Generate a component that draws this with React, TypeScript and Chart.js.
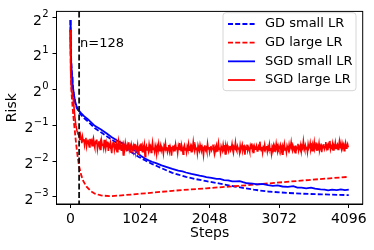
import { useEffect, useRef } from 'react';
import { Chart, registerables } from 'chart.js';

Chart.register(...registerables);

// ---------- data (risk values are read in log2 units from the picture) ----------
const xTickSteps = [0, 1024, 2048, 3072, 4096];
const yTickExponents = [-3, -2, -1, 0, 1, 2];
const markerStep = 128;
const markerLabel = 'n=128';
const xTitle = 'Steps';
const yTitle = 'Risk';
const legendLabels = ['GD small LR', 'GD large LR', 'SGD small LR', 'SGD large LR'];

const gdSmallSteps = [0, 2, 4, 8, 16, 24, 32, 48, 64, 80, 96, 128, 160, 200, 260, 358, 450, 603, 750, 852, 1000, 1097, 1200, 1342, 1500, 1587, 1700, 1833, 2000, 2200, 2418, 2700, 2909, 3200, 3400, 3700, 4096];
const gdSmallLog2Risk = [1.93, 1.6, 1.35, 1.0, 0.6, 0.35, 0.15, -0.13, -0.32, -0.45, -0.53, -0.64, -0.72, -0.8, -0.9, -1.08, -1.2, -1.4, -1.57, -1.7, -1.88, -1.98, -2.08, -2.2, -2.33, -2.38, -2.44, -2.5, -2.56, -2.63, -2.71, -2.8, -2.85, -2.89, -2.91, -2.93, -2.95];

const gdLargeSteps = [0, 2, 4, 8, 16, 32, 48, 64, 80, 96, 112, 128, 160, 192, 240, 300, 360, 450, 600, 800, 1100, 1500, 2000, 2500, 3000, 3500, 4096];
const gdLargeLog2Risk = [1.66, 1.15, 0.75, 0.3, -0.1, -0.5, -0.85, -1.15, -1.45, -1.72, -1.95, -2.15, -2.4, -2.57, -2.72, -2.84, -2.91, -2.96, -2.98, -2.95, -2.9, -2.83, -2.76, -2.69, -2.61, -2.53, -2.44];

const sgdSmallSteps = [0, 2, 4, 8, 16, 24, 32, 48, 64, 80, 96, 128, 160, 200, 260, 358, 450, 540, 603, 700, 760, 852, 920, 960, 1000, 1040, 1097, 1150, 1200, 1260, 1342, 1420, 1500, 1587, 1650, 1700, 1780, 1833, 1900, 1960, 2000, 2077, 2150, 2200, 2260, 2322, 2380, 2430, 2491, 2540, 2600, 2680, 2750, 2820, 2909, 2980, 3050, 3120, 3200, 3280, 3340, 3400, 3470, 3540, 3600, 3680, 3740, 3792, 3850, 3920, 3980, 4040, 4096];
const sgdSmallLog2Risk = [1.93, 1.6, 1.35, 1.0, 0.6, 0.35, 0.15, -0.1, -0.28, -0.42, -0.5, -0.6, -0.67, -0.75, -0.84, -1.02, -1.12, -1.24, -1.33, -1.44, -1.5, -1.62, -1.68, -1.72, -1.8, -1.86, -1.93, -1.98, -2.02, -2.06, -2.12, -2.17, -2.22, -2.27, -2.29, -2.32, -2.36, -2.38, -2.41, -2.43, -2.45, -2.47, -2.5, -2.5, -2.53, -2.54, -2.57, -2.57, -2.56, -2.59, -2.62, -2.63, -2.65, -2.64, -2.67, -2.69, -2.68, -2.71, -2.72, -2.7, -2.74, -2.74, -2.76, -2.74, -2.77, -2.79, -2.8, -2.82, -2.8, -2.81, -2.79, -2.81, -2.8];

const sgdLargeEarlySteps = [0, 2, 4, 8, 12, 16, 24, 32, 40, 48, 64, 80, 96, 112];
const sgdLargeEarlyLog2Risk = [1.66, 1.2, 0.85, 0.45, 0.15, 0.0, -0.1, -0.17, -0.25, -0.4, -0.75, -1.0, -1.15, -1.25];
const sgdLargeNoisyStart = 128;
const sgdLargeNoisyStride = 10;
const sgdLargeNoisyLog2Risk = [
  -1.30, -1.41, -1.27, -1.36, -1.50, -1.33, -1.44, -1.39, -1.55, -1.42, -1.35, -1.58, -1.46, -1.40, -1.52, -1.61, -1.38, -1.49, -1.44, -1.57,
  -1.43, -1.36, -1.54, -1.62, -1.47, -1.51, -1.40, -1.66, -1.53, -1.45, -1.59, -1.49, -1.70, -1.44, -1.56, -1.52, -1.63, -1.41, -1.58, -1.67,
  -1.50, -1.61, -1.46, -1.72, -1.55, -1.59, -1.49, -1.65, -1.78, -1.54, -1.60, -1.47, -1.68, -1.57, -1.63, -1.52, -1.74, -1.58, -1.45, -1.66,
  -1.61, -1.53, -1.70, -1.64, -1.56, -1.83, -1.59, -1.67, -1.50, -1.62, -1.73, -1.57, -1.66, -1.48, -1.69, -1.61, -1.77, -1.55, -1.64, -1.71,
  -1.58, -1.66, -1.52, -1.75, -1.62, -1.68, -1.56, -1.81, -1.63, -1.59, -1.70, -1.51, -1.65, -1.74, -1.60, -1.67, -1.55, -1.88, -1.64, -1.58,
  -1.69, -1.61, -1.72, -1.54, -1.66, -1.60, -1.76, -1.63, -1.49, -1.68, -1.62, -1.73, -1.57, -1.65, -1.80, -1.59, -1.67, -1.53, -1.71, -1.64,
  -1.56, -1.70, -1.62, -1.66, -1.79, -1.58, -1.64, -1.51, -1.69, -1.61, -1.74, -1.65, -1.55, -1.72, -1.60, -1.67, -1.85, -1.63, -1.57, -1.68,
  -1.62, -1.73, -1.54, -1.66, -1.61, -1.77, -1.59, -1.68, -1.50, -1.64, -1.71, -1.58, -1.66, -1.81, -1.62, -1.56, -1.69, -1.63, -1.75, -1.60,
  -1.67, -1.53, -1.70, -1.64, -1.58, -1.74, -1.61, -1.66, -1.47, -1.63, -1.72, -1.59, -1.68, -1.62, -1.78, -1.57, -1.65, -1.70, -1.55, -1.64,
  -1.71, -1.60, -1.67, -1.83, -1.62, -1.56, -1.69, -1.64, -1.73, -1.52, -1.66, -1.61, -1.75, -1.63, -1.58, -1.70, -1.65, -1.54, -1.68, -1.79,
  -1.61, -1.66, -1.57, -1.72, -1.64, -1.50, -1.68, -1.62, -1.76, -1.59, -1.65, -1.71, -1.55, -1.67, -1.63, -1.80, -1.60, -1.69, -1.56, -1.66,
  -1.73, -1.62, -1.58, -1.70, -1.65, -1.53, -1.68, -1.77, -1.61, -1.64, -1.49, -1.67, -1.72, -1.59, -1.66, -1.62, -1.75, -1.57, -1.69, -1.63,
  -1.55, -1.71, -1.64, -1.60, -1.82, -1.63, -1.67, -1.54, -1.70, -1.61, -1.66, -1.74, -1.58, -1.65, -1.51, -1.69, -1.62, -1.78, -1.60, -1.67,
  -1.63, -1.57, -1.72, -1.65, -1.59, -1.68, -1.46, -1.64, -1.71, -1.60, -1.76, -1.62, -1.66, -1.55, -1.69, -1.63, -1.58, -1.73, -1.61, -1.67,
  -1.54, -1.70, -1.64, -1.79, -1.60, -1.66, -1.57, -1.72, -1.62, -1.68, -1.52, -1.65, -1.74, -1.59, -1.67, -1.63, -1.56, -1.71, -1.64, -1.81,
  -1.60, -1.66, -1.53, -1.69, -1.62, -1.75, -1.58, -1.64, -1.70, -1.55, -1.67, -1.61, -1.48, -1.66, -1.72, -1.59, -1.65, -1.62, -1.77, -1.57,
  -1.68, -1.63, -1.52, -1.70, -1.61, -1.66, -1.56, -1.73, -1.59, -1.64, -1.45, -1.62, -1.69, -1.57, -1.66, -1.60, -1.74, -1.54, -1.65, -1.61,
  -1.50, -1.67, -1.59, -1.71, -1.56, -1.63, -1.48, -1.66, -1.60, -1.55, -1.72, -1.58, -1.64, -1.51, -1.69, -1.61, -1.57, -1.75, -1.59, -1.63,
  -1.53, -1.66, -1.60, -1.47, -1.64, -1.58, -1.70, -1.55, -1.62, -1.44, -1.67, -1.59, -1.63, -1.52, -1.69, -1.57, -1.61, -1.49, -1.65, -1.58,
  -1.54, -1.68, -1.60, -1.46, -1.63, -1.57, -1.66, -1.51, -1.61, -1.55, -1.71, -1.58, -1.49, -1.64, -1.59, -1.53, -1.62,
];

// ---------- helpers ----------
const FONT = '"DejaVu Sans", "Liberation Sans", sans-serif';
const BLUE = '#0000ff';
const RED = '#ff0000';
const DASH = [5, 2.2];

const toPoints = (steps: number[], log2: number[]) =>
  steps.map((s, i) => ({ x: s, y: Math.pow(2, log2[i]) }));

const sgdLargePoints = [
  ...toPoints(sgdLargeEarlySteps, sgdLargeEarlyLog2Risk),
  ...sgdLargeNoisyLog2Risk.map((v, i) => ({ x: sgdLargeNoisyStart + i * sgdLargeNoisyStride, y: Math.pow(2, v) })),
];

const legendStyles = [
  { color: BLUE, dash: DASH },
  { color: RED, dash: DASH },
  { color: BLUE, dash: [] as number[] },
  { color: RED, dash: [] as number[] },
];

const overlayPlugin = {
  id: 'overlay',
  afterDatasetsDraw(chart: any) {
    const { ctx, chartArea } = chart;
    const xs = chart.scales.x;
    const px = xs.getPixelForValue(markerStep);
    ctx.save();
    ctx.strokeStyle = '#111';
    ctx.lineWidth = 1.8;
    ctx.setLineDash([6, 2.6]);
    ctx.beginPath();
    ctx.moveTo(px, chartArea.top);
    ctx.lineTo(px, chartArea.bottom);
    ctx.stroke();
    ctx.setLineDash([]);
    ctx.fillStyle = '#000';
    ctx.font = `13px ${FONT}`;
    ctx.textAlign = 'left';
    ctx.textBaseline = 'middle';
    ctx.fillText(markerLabel, px + 1, 44);
    ctx.restore();
  },
  afterDraw(chart: any) {
    const { ctx, chartArea } = chart;
    ctx.save();
    // full frame
    ctx.strokeStyle = '#000';
    ctx.lineWidth = 1;
    ctx.strokeRect(chartArea.left, chartArea.top, chartArea.right - chartArea.left, chartArea.bottom - chartArea.top);

    // y tick labels as 2^k
    const ys = chart.scales.y;
    const right = chartArea.left - 8;
    ys.ticks.forEach((t: any) => {
      const py = ys.getPixelForValue(t.value);
      const e = Math.round(Math.log2(t.value));
      const expStr = e < 0 ? '\u2212' + Math.abs(e) : String(e);
      ctx.fillStyle = '#000';
      ctx.textBaseline = 'alphabetic';
      ctx.font = `10px ${FONT}`;
      const ew = ctx.measureText(expStr).width;
      ctx.textAlign = 'left';
      ctx.fillText(expStr, right - ew, py - 0.5);
      ctx.font = `14px ${FONT}`;
      ctx.textAlign = 'right';
      ctx.fillText('2', right - ew - 0.3, py + 7);
    });

    // legend
    const lx = 223, ly = 12.7, lw = 133, lh = 78, r = 3;
    ctx.beginPath();
    ctx.moveTo(lx + r, ly);
    ctx.lineTo(lx + lw - r, ly);
    ctx.quadraticCurveTo(lx + lw, ly, lx + lw, ly + r);
    ctx.lineTo(lx + lw, ly + lh - r);
    ctx.quadraticCurveTo(lx + lw, ly + lh, lx + lw - r, ly + lh);
    ctx.lineTo(lx + r, ly + lh);
    ctx.quadraticCurveTo(lx, ly + lh, lx, ly + lh - r);
    ctx.lineTo(lx, ly + r);
    ctx.quadraticCurveTo(lx, ly, lx + r, ly);
    ctx.closePath();
    ctx.fillStyle = 'rgba(255,255,255,0.8)';
    ctx.fill();
    ctx.strokeStyle = '#d6d6d6';
    ctx.lineWidth = 1;
    ctx.stroke();
    legendLabels.forEach((label, i) => {
      const y = 24 + i * 18.67;
      const st = legendStyles[i];
      ctx.strokeStyle = st.color;
      ctx.lineWidth = 1.8;
      ctx.setLineDash(st.dash);
      ctx.beginPath();
      ctx.moveTo(228, y);
      ctx.lineTo(255, y);
      ctx.stroke();
      ctx.setLineDash([]);
      ctx.fillStyle = '#000';
      ctx.font = `13px ${FONT}`;
      ctx.textAlign = 'left';
      ctx.textBaseline = 'middle';
      ctx.fillText(label, 265, y);
    });
    ctx.restore();
  },
};

export default function App() {
  const canvasRef = useRef<HTMLCanvasElement | null>(null);

  useEffect(() => {
    const canvas = canvasRef.current;
    if (!canvas) return;
    Chart.defaults.font.family = FONT;
    Chart.defaults.color = '#000';

    const chart = new Chart(canvas, {
      type: 'line',
      data: {
        datasets: [
          {
            label: legendLabels[0],
            data: toPoints(gdSmallSteps, gdSmallLog2Risk),
            borderColor: BLUE,
            borderDash: DASH,
            borderWidth: 1.8,
            pointRadius: 0,
            order: 4,
          },
          {
            label: legendLabels[1],
            data: toPoints(gdLargeSteps, gdLargeLog2Risk),
            borderColor: RED,
            borderDash: DASH,
            borderWidth: 1.8,
            pointRadius: 0,
            order: 3,
          },
          {
            label: legendLabels[2],
            data: toPoints(sgdSmallSteps, sgdSmallLog2Risk),
            borderColor: BLUE,
            borderWidth: 1.8,
            pointRadius: 0,
            order: 2,
          },
          {
            label: legendLabels[3],
            data: sgdLargePoints,
            borderColor: RED,
            borderWidth: 1.6,
            pointRadius: 0,
            order: 1,
          },
        ],
      },
      options: {
        animation: false,
        responsive: false,
        maintainAspectRatio: false,
        events: [],
        layout: { padding: { left: 0, right: 11.3, top: 6, bottom: 0 } },
        plugins: { legend: { display: false }, tooltip: { enabled: false } },
        elements: { line: { tension: 0 } },
        scales: {
          x: {
            type: 'linear',
            min: -204.8,
            max: 4300.8,
            afterBuildTicks: (s: any) => {
              s.ticks = xTickSteps.map((v) => ({ value: v }));
            },
            afterFit: (s: any) => {
              s.height = 46;
            },
            grid: { display: true, drawOnChartArea: false, drawTicks: true, tickLength: 4, color: '#000' },
            border: { display: true, color: '#000', width: 1 },
            ticks: {
              autoSkip: false,
              maxRotation: 0,
              padding: 3,
              color: '#000',
              font: { size: 14, family: FONT },
              callback: (v: any) => String(v),
            },
            title: {
              display: true,
              text: xTitle,
              color: '#000',
              font: { size: 14, family: FONT },
              padding: { top: 0, bottom: 8 },
            },
          },
          y: {
            type: 'logarithmic',
            min: Math.pow(2, -3.198),
            max: Math.pow(2, 2.171),
            afterBuildTicks: (s: any) => {
              s.ticks = yTickExponents.map((e) => ({ value: Math.pow(2, e) }));
            },
            afterFit: (s: any) => {
              s.width = 56.5;
            },
            grid: { display: true, drawOnChartArea: false, drawTicks: true, tickLength: 4, color: '#000' },
            border: { display: true, color: '#000', width: 1 },
            ticks: {
              autoSkip: false,
              color: '#000',
              font: { size: 14, family: FONT },
              callback: () => '',
            },
            title: {
              display: true,
              text: yTitle,
              color: '#000',
              font: { size: 14, family: FONT },
              padding: { top: 4, bottom: 0 },
            },
          },
        },
      },
      plugins: [overlayPlugin],
    } as any);

    return () => {
      chart.destroy();
    };
  }, []);

  return (
    <div style={{ position: 'fixed', left: 0, top: 0, width: 374, height: 250, background: '#fff' }}>
      <canvas ref={canvasRef} width={374} height={250} style={{ width: 374, height: 250, display: 'block' }} />
    </div>
  );
}
